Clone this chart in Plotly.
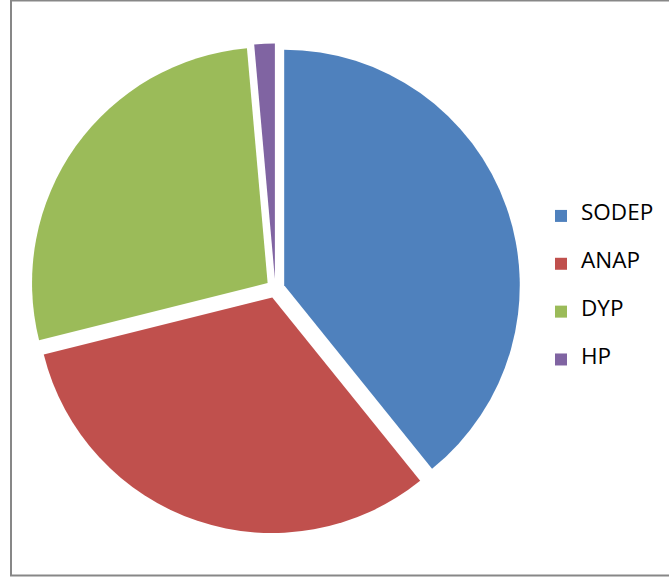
import plotly.graph_objects as go

parties = ["SODEP", "ANAP", "DYP", "HP"]
shares = [39.2, 31.9, 27.5, 1.4]
colors = ["#4F81BD", "#C0504D", "#9BBB59", "#8064A2"]

W, H = 669, 578

# three-line labels (empty first/last lines) to widen legend spacing
labels_fmt = ["<br><span style='font-size:22.5px'>%s</span><br>" % p for p in parties]

fig = go.Figure(go.Pie(
    labels=labels_fmt,
    values=shares,
    sort=False,
    direction="clockwise",
    rotation=0,
    pull=[0.04] * len(parties),
    marker=dict(colors=colors, line=dict(color="white", width=0)),
    textinfo="none",
    hoverinfo="label+percent",
    domain=dict(x=[30.3 / W, 520.3 / W], y=[1 - 533.5 / H, 1 - 43.5 / H]),
))

fig.update_layout(
    width=W, height=H,
    margin=dict(l=0, r=0, t=0, b=0),
    paper_bgcolor="white",
    plot_bgcolor="white",
    font=dict(family="Open Sans, Liberation Sans, sans-serif", color="#000000"),
    showlegend=True,
    legend=dict(
        x=541 / W, y=1 - 288 / H, xanchor="left", yanchor="middle",
        font=dict(size=11.5, color="#000000"),
        bgcolor="rgba(0,0,0,0)",
    ),
    shapes=[dict(
        type="rect", xref="paper", yref="paper",
        x0=11 / W, x1=1.02, y0=2.5 / H, y1=1 - 0.5 / H,
        line=dict(color="#878787", width=2),
    )],
)

fig.write_html("out.html", config={"displayModeBar": False},
               post_script="document.body.style.margin='0px';")
